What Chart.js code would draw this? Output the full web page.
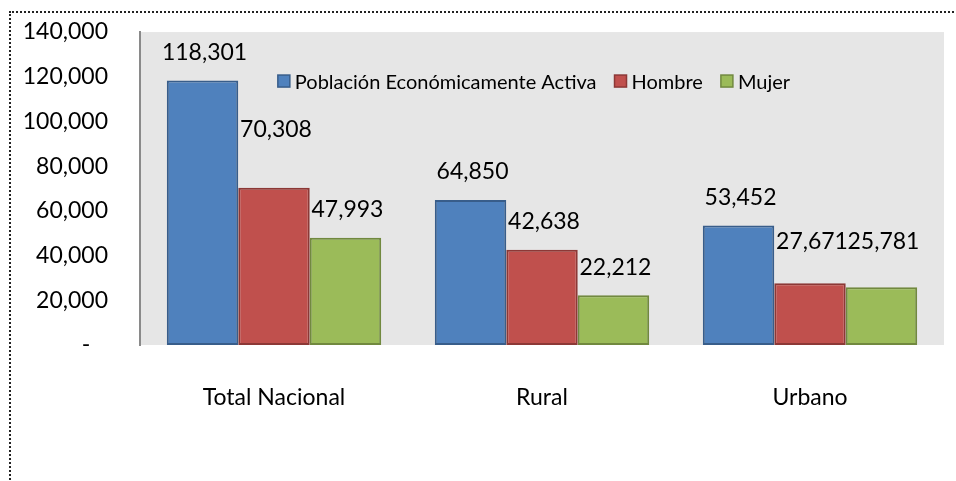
<!DOCTYPE html>
<html>
<head>
<meta charset="utf-8">
<script src="https://cdn.jsdelivr.net/npm/chart.js@4.4.1/dist/chart.umd.min.js"></script>
<style>
  html, body { margin: 0; padding: 0; background: #fff; }
  #wrap { position: relative; width: 956px; height: 481px; overflow: hidden; }
  #frame { position: absolute; left: 9px; top: 11px; width: 1000px; height: 600px;
           border: 2px dotted #222; box-sizing: border-box; pointer-events: none; }
  canvas { position: absolute; left: 0; top: 0; }
</style>
</head>
<body>
<div id="wrap">
  <canvas id="myChart" width="956" height="481"></canvas>
  <div id="frame"></div>
</div>
<script>
// datos
const categorias = ['Total Nacional', 'Rural', 'Urbano'];
const pea = [118301, 64850, 53452];
const hombre = [70308, 42638, 27671];
const mujer = [47993, 22212, 25781];
const yTicks = [0, 20000, 40000, 60000, 80000, 100000, 120000, 140000];

const FONT = 'Lato, "DejaVu Sans", sans-serif';

// fondo gris del area de trazado
const fondoPlot = {
    id: 'fondoPlot',
    beforeDraw(chart) {
        const { ctx, chartArea: a } = chart;
        ctx.save();
        ctx.fillStyle = '#e6e6e6';
        ctx.fillRect(a.left, a.top, a.right - a.left, a.bottom - a.top);
        ctx.restore();
    }
};

// etiquetas encima de las barras
const etiquetas = {
    id: 'etiquetas',
    afterDatasetsDraw(chart, args, opts) {
        const ctx = chart.ctx;
        ctx.save();
        ctx.font = '23px ' + FONT;
        ctx.fillStyle = '#000';
        ctx.textAlign = 'center';
        ctx.textBaseline = 'middle';
        chart.data.datasets.forEach((ds, i) => {
            chart.getDatasetMeta(i).data.forEach((bar, j) => {
                const extra = opts.extra[i + '-' + j] || 0;
                ctx.fillText(ds.data[j].toLocaleString('en-US'), bar.x + 2, bar.y - 28 - extra);
            });
        });
        ctx.restore();
    }
};

// leyenda dentro del area de trazado
const leyenda = {
    id: 'leyenda',
    afterDatasetsDraw(chart) {
        const { ctx, chartArea: a } = chart;
        ctx.save();
        ctx.font = '20px ' + FONT;
        ctx.textBaseline = 'middle';
        const box = 12, gap = 5, sep = 18;
        const items = chart.data.datasets.map(ds => ({ ds, w: ctx.measureText(ds.label).width }));
        const total = items.reduce((s, it) => s + box + gap + it.w, 0) + sep * (items.length - 1);
        let x = a.left + (a.right - a.left) * 0.49 - total / 2;
        const y = a.top + 49;
        items.forEach(it => {
            ctx.fillStyle = it.ds.backgroundColor;
            ctx.fillRect(x, y - box / 2, box, box);
            ctx.strokeStyle = it.ds.borderColor;
            ctx.lineWidth = 1.5;
            ctx.strokeRect(x, y - box / 2, box, box);
            x += box + gap;
            ctx.fillStyle = '#000';
            ctx.fillText(it.ds.label, x, y + 1);
            x += it.w + sep;
        });
        ctx.restore();
    }
};

const ctx = document.getElementById('myChart').getContext('2d');

const myChart = new Chart(ctx, {
    type: 'bar',
    data: {
        labels: categorias,
        datasets: [
            { label: 'Población Económicamente Activa', data: pea,
              backgroundColor: '#4f81bd', borderColor: '#385d8a' },
            { label: 'Hombre', data: hombre,
              backgroundColor: '#c0504d', borderColor: '#8c3836' },
            { label: 'Mujer', data: mujer,
              backgroundColor: '#9bbb59', borderColor: '#71893f' }
        ]
    },
    options: {
        responsive: false,
        animation: false,
        layout: { padding: { top: 26, right: 12, left: 0, bottom: 0 } },
        datasets: {
            bar: { categoryPercentage: 0.8, barPercentage: 1.0, borderWidth: 2, borderSkipped: false }
        },
        scales: {
            x: {
                grid: { display: false },
                border: { display: false },
                ticks: { color: '#000', font: { family: FONT, size: 23 }, padding: 31, maxRotation: 0 },
                afterFit(axis) { axis.height = 136; }
            },
            y: {
                min: 0,
                max: 140000,
                afterBuildTicks(axis) { axis.ticks = yTicks.map(v => ({ value: v })); },
                grid: { display: false },
                border: { display: true, color: '#8a8a8a', width: 2 },
                ticks: {
                    color: '#000',
                    font: { family: FONT, size: 23, lineHeight: 0.7 },
                    padding: 24,
                    callback: v => v === 0 ? '-   ' : v.toLocaleString('en-US')
                },
                afterFit(axis) { axis.width = 140; }
            }
        },
        plugins: {
            legend: { display: false },
            tooltip: { enabled: false },
            etiquetas: { extra: { '1-0': 30, '1-2': 14, '2-2': 18 } }
        }
    },
    plugins: [fondoPlot, etiquetas, leyenda]
});
</script>
</body>
</html>
